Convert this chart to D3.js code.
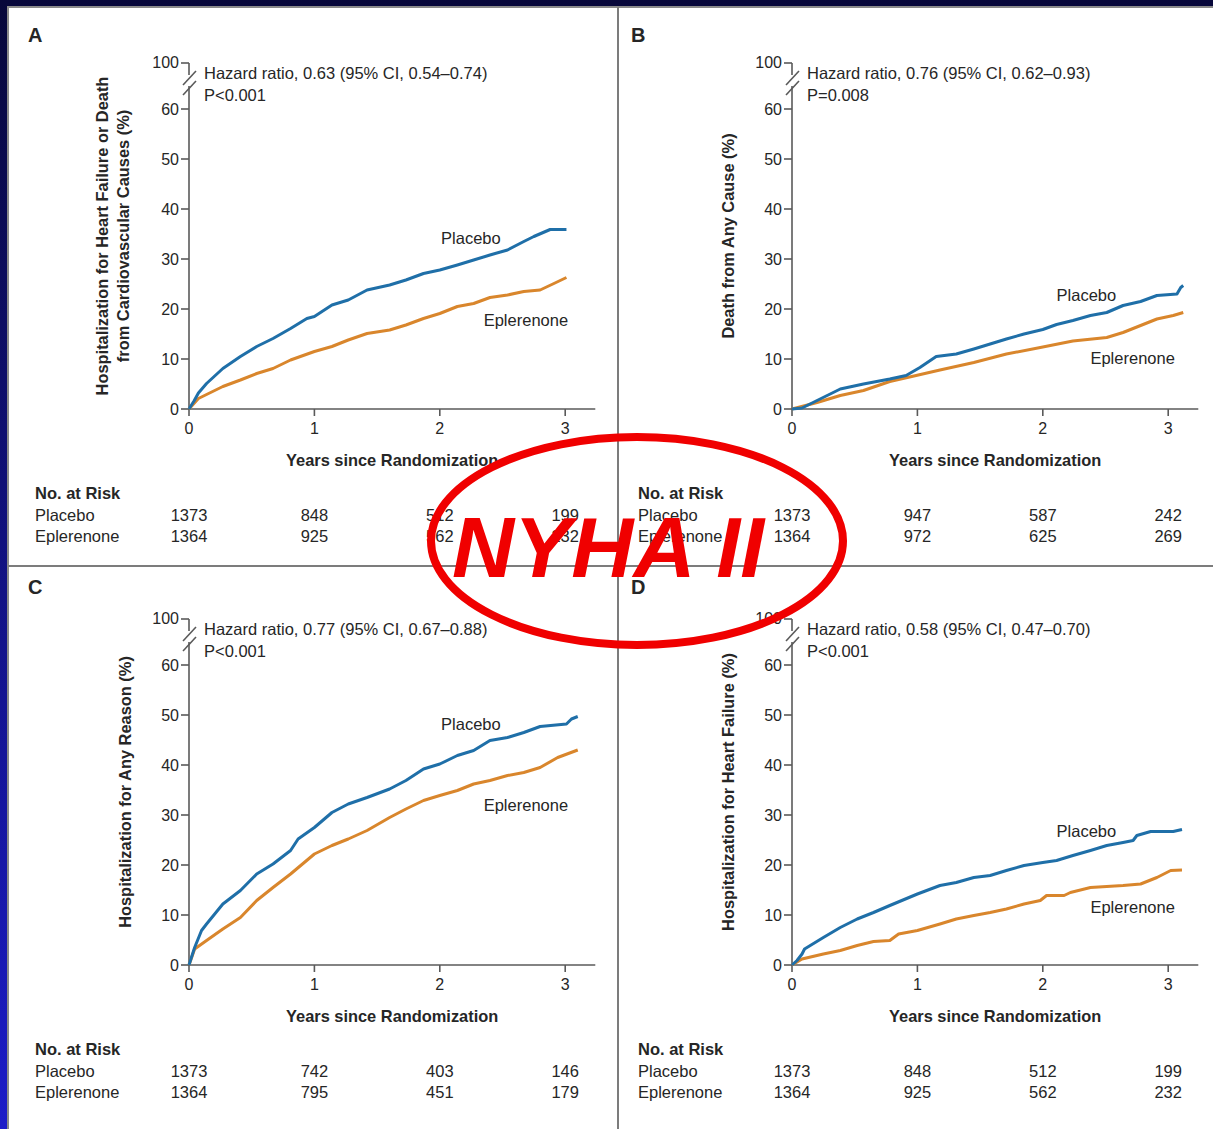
<!DOCTYPE html>
<html>
<head>
<meta charset="utf-8">
<script src="https://cdn.jsdelivr.net/npm/d3@7"></script>
<style>
  html, body { margin: 0; padding: 0; background: #0a0a3a; }
  svg { display: block; }
  text { font-family: "Liberation Sans", Arial, sans-serif; fill: #262626; }
</style>
</head>
<body>
<svg id="chart" width="1213" height="1129"></svg>
<script>
// ---- data ----
const yearTicks = [0, 1, 2, 3];
const pctTicks = [0, 10, 20, 30, 40, 50, 60];
const breakTickLabel = "100";
const panelLetters = ["A", "B", "C", "D"];
const yTitles = [
  ["Hospitalization for Heart Failure or Death", "from Cardiovascular Causes (%)"],
  ["Death from Any Cause (%)"],
  ["Hospitalization for Any Reason (%)"],
  ["Hospitalization for Heart Failure (%)"]
];
const hazardLines = [
  "Hazard ratio, 0.63 (95% CI, 0.54\u20130.74)",
  "Hazard ratio, 0.76 (95% CI, 0.62\u20130.93)",
  "Hazard ratio, 0.77 (95% CI, 0.67\u20130.88)",
  "Hazard ratio, 0.58 (95% CI, 0.47\u20130.70)"
];
const pValueLines = ["P<0.001", "P=0.008", "P<0.001", "P<0.001"];
const seriesNames = ["Placebo", "Eplerenone"];
const xTitle = "Years since Randomization";
const riskTitle = "No. at Risk";
const riskPlacebo = [
  [1373, 848, 512, 199],
  [1373, 947, 587, 242],
  [1373, 742, 403, 146],
  [1373, 848, 512, 199]
];
const riskEplerenone = [
  [1364, 925, 562, 232],
  [1364, 972, 625, 269],
  [1364, 795, 451, 179],
  [1364, 925, 562, 232]
];

// cumulative event rates, [years, percent]
const placeboA = [[0,0],[0.04,1.6],[0.075,3.2],[0.14,5.1],[0.27,8.1],[0.41,10.5],[0.54,12.5],[0.67,14.1],[0.81,16.1],[0.94,18.1],[1.0,18.5],[1.14,20.8],[1.27,21.8],[1.42,23.8],[1.6,24.8],[1.73,25.8],[1.87,27.1],[2.0,27.8],[2.14,28.8],[2.27,29.8],[2.4,30.8],[2.54,31.8],[2.67,33.5],[2.75,34.5],[2.88,35.9],[3.01,35.9]];
const eplerenoneA = [[0,0],[0.075,2.1],[0.27,4.5],[0.41,5.8],[0.54,7.1],[0.67,8.1],[0.81,9.8],[1.0,11.5],[1.14,12.5],[1.27,13.8],[1.42,15.1],[1.6,15.8],[1.73,16.8],[1.87,18.1],[2.0,19.1],[2.14,20.5],[2.27,21.1],[2.4,22.3],[2.54,22.8],[2.67,23.5],[2.8,23.8],[2.91,25.1],[3.01,26.3]];
const placeboB = [[0,0],[0.08,0.2],[0.2,1.7],[0.385,4.0],[0.57,5.0],[0.78,6.0],[0.91,6.7],[1.02,8.3],[1.15,10.5],[1.31,11.0],[1.45,12.0],[1.58,13.0],[1.71,14.0],[1.85,15.0],[2.0,15.9],[2.11,16.9],[2.24,17.7],[2.38,18.7],[2.51,19.3],[2.64,20.7],[2.78,21.5],[2.91,22.7],[3.07,23.0],[3.1,24.3],[3.12,24.7]];
const eplerenoneB = [[0,0],[0.2,1.3],[0.385,2.7],[0.57,3.7],[0.78,5.5],[0.99,6.7],[1.18,7.8],[1.45,9.3],[1.71,11.0],[1.98,12.3],[2.24,13.6],[2.51,14.3],[2.64,15.3],[2.78,16.7],[2.91,18.0],[3.04,18.7],[3.12,19.3]];
const placeboC = [[0,0],[0.045,3.5],[0.1,6.9],[0.14,8.2],[0.27,12.2],[0.41,14.9],[0.54,18.2],[0.67,20.2],[0.81,22.9],[0.87,25.2],[1.0,27.5],[1.14,30.5],[1.27,32.2],[1.42,33.5],[1.6,35.2],[1.73,36.9],[1.87,39.2],[2.0,40.2],[2.14,41.9],[2.27,42.9],[2.4,44.9],[2.54,45.5],[2.67,46.5],[2.8,47.7],[3.01,48.2],[3.05,49.2],[3.1,49.7]];
const eplerenoneC = [[0,0],[0.045,3.2],[0.14,4.9],[0.27,7.2],[0.41,9.5],[0.54,12.9],[0.67,15.5],[0.81,18.2],[1.0,22.2],[1.14,23.9],[1.27,25.2],[1.42,26.9],[1.6,29.5],[1.73,31.2],[1.87,32.9],[2.0,33.9],[2.14,34.9],[2.27,36.2],[2.4,36.9],[2.54,37.9],[2.67,38.5],[2.8,39.5],[2.94,41.5],[3.1,43.0]];
const placeboD = [[0,0],[0.04,0.9],[0.08,2.2],[0.1,3.2],[0.25,5.5],[0.385,7.5],[0.52,9.2],[0.65,10.5],[0.78,11.9],[1.0,14.2],[1.18,15.9],[1.31,16.5],[1.45,17.5],[1.58,17.9],[1.71,18.9],[1.85,19.9],[2.0,20.5],[2.11,20.9],[2.24,21.9],[2.38,22.9],[2.51,23.9],[2.64,24.5],[2.72,24.9],[2.75,25.9],[2.86,26.7],[3.04,26.7],[3.11,27.1]];
const eplerenoneD = [[0,0],[0.08,1.2],[0.25,2.2],[0.385,2.9],[0.52,3.9],[0.65,4.7],[0.78,4.9],[0.85,6.2],[1.0,6.9],[1.18,8.2],[1.31,9.2],[1.45,9.9],[1.58,10.5],[1.71,11.2],[1.85,12.2],[1.98,12.9],[2.03,13.9],[2.17,13.9],[2.22,14.5],[2.38,15.5],[2.64,15.9],[2.78,16.2],[2.91,17.5],[3.02,18.9],[3.11,19.0]];

const placeboSeries = [placeboA, placeboB, placeboC, placeboD];
const eplerenoneSeries = [eplerenoneA, eplerenoneB, eplerenoneC, eplerenoneD];

const overlayLabel = "NYHA II";

// ---- layout ----
const W = 1213, H = 1129;
const colors = { placebo: "#1f6fa8", eplerenone: "#d9862c", axis: "#5a5a5a", divider: "#7c7c7c" };
const yearPx = 125.4, pctPx = 5;
const panels = [
  { ox: 189, oy: 409, labels: [[2.01, 33], [2.35, 16.6]], yTitleX: [-81, -60] },
  { ox: 792, oy: 409, labels: [[2.11, 21.6], [2.38, 9]], yTitleX: [-58] },
  { ox: 189, oy: 965, labels: [[2.01, 47], [2.35, 30.8]], yTitleX: [-58] },
  { ox: 792, oy: 965, labels: [[2.11, 25.6], [2.38, 10.4]], yTitleX: [-58] }
];

const svg = d3.select("#chart");

// backdrop: dark blue gradient, then white sheet
const defs = svg.append("defs");
const grad = defs.append("linearGradient").attr("id", "bg").attr("x1", 0).attr("y1", 0).attr("x2", 0).attr("y2", 1);
grad.append("stop").attr("offset", "0%").attr("stop-color", "#07073a");
grad.append("stop").attr("offset", "100%").attr("stop-color", "#1c1cc8");
svg.append("rect").attr("width", W).attr("height", H).attr("fill", "url(#bg)");
svg.append("rect").attr("x", 8).attr("y", 7).attr("width", W).attr("height", H)
  .attr("fill", "#ffffff").attr("stroke", "#8a8a8a").attr("stroke-width", 2);

// quadrant dividers
svg.append("line").attr("x1", 618).attr("x2", 618).attr("y1", 7).attr("y2", H)
  .attr("stroke", colors.divider).attr("stroke-width", 2);
svg.append("line").attr("x1", 8).attr("x2", W).attr("y1", 566).attr("y2", 566)
  .attr("stroke", colors.divider).attr("stroke-width", 2);

panels.forEach((p, i) => {
  const g = svg.append("g");
  const x = d3.scaleLinear().domain([0, 3]).range([p.ox, p.ox + 3 * yearPx]);
  const y = d3.scaleLinear().domain([0, 60]).range([p.oy, p.oy - 60 * pctPx]);
  const topVal = 69.2;      // position of the "100" tick above the break
  const xEnd = x(3.24);

  // panel letter
  g.append("text").attr("x", p.ox - 161).attr("y", p.oy - 367 + (i >= 2 ? -4 : 0))
    .attr("font-size", 20).attr("font-weight", "bold").text(panelLetters[i]);

  // y axis (broken)
  const axisStroke = { stroke: colors.axis, "stroke-width": 1.6, fill: "none" };
  const addLine = (x1, y1, x2, y2) => {
    const l = g.append("line").attr("x1", x1).attr("y1", y1).attr("x2", x2).attr("y2", y2);
    Object.entries(axisStroke).forEach(([k, v]) => l.attr(k, v));
  };
  addLine(p.ox, y(0), p.ox, y(64.6));
  addLine(p.ox, y(topVal), p.ox, y(66.8));
  addLine(p.ox - 8, y(topVal), p.ox, y(topVal));
  // break marks
  addLine(p.ox - 6, y(62.8), p.ox + 7, y(65.6));
  addLine(p.ox - 6, y(64.8), p.ox + 7, y(67.6));

  pctTicks.forEach(t => {
    addLine(p.ox - 8, y(t), p.ox, y(t));
    g.append("text").attr("x", p.ox - 10).attr("y", y(t)).attr("dy", "0.35em")
      .attr("text-anchor", "end").attr("font-size", 16).text(t);
  });
  g.append("text").attr("x", p.ox - 10).attr("y", y(topVal)).attr("dy", "0.3em")
    .attr("text-anchor", "end").attr("font-size", 16).text(breakTickLabel);

  // x axis
  addLine(p.ox, y(0), xEnd, y(0));
  yearTicks.forEach(t => {
    addLine(x(t), y(0), x(t), y(0) + 7);
    g.append("text").attr("x", x(t)).attr("y", p.oy + 25)
      .attr("text-anchor", "middle").attr("font-size", 16).text(t);
  });
  g.append("text").attr("x", (p.ox + xEnd) / 2).attr("y", p.oy + 57)
    .attr("text-anchor", "middle").attr("font-size", 16.4).attr("font-weight", "bold").text(xTitle);

  // y title
  const yMid = (y(0) + y(topVal)) / 2;
  yTitles[i].forEach((line, k) => {
    const tx = p.ox + p.yTitleX[k];
    g.append("text").attr("transform", `translate(${tx},${yMid}) rotate(-90)`)
      .attr("text-anchor", "middle").attr("font-size", 16.4).attr("font-weight", "bold").text(line);
  });

  // hazard ratio annotation
  g.append("text").attr("x", p.ox + 15).attr("y", p.oy - 330).attr("font-size", 16.5).text(hazardLines[i]);
  g.append("text").attr("x", p.ox + 15).attr("y", p.oy - 308.5).attr("font-size", 16.5).text(pValueLines[i]);

  // curves
  const line = d3.line().x(d => x(d[0])).y(d => y(d[1])).curve(d3.curveLinear);
  g.append("path").datum(eplerenoneSeries[i]).attr("d", line)
    .attr("fill", "none").attr("stroke", colors.eplerenone).attr("stroke-width", 3).attr("stroke-linejoin", "round");
  g.append("path").datum(placeboSeries[i]).attr("d", line)
    .attr("fill", "none").attr("stroke", colors.placebo).attr("stroke-width", 3).attr("stroke-linejoin", "round");

  // series labels
  seriesNames.forEach((name, k) => {
    g.append("text").attr("x", x(p.labels[k][0])).attr("y", y(p.labels[k][1]))
      .attr("font-size", 16.5).text(name);
  });

  // number at risk table
  const rx = p.ox - 154;
  g.append("text").attr("x", rx).attr("y", p.oy + 90).attr("font-size", 16.5).attr("font-weight", "bold").text(riskTitle);
  [[seriesNames[0], riskPlacebo[i], 112], [seriesNames[1], riskEplerenone[i], 133]].forEach(([name, vals, dy]) => {
    g.append("text").attr("x", rx).attr("y", p.oy + dy).attr("font-size", 16.5).text(name);
    vals.forEach((v, j) => {
      g.append("text").attr("x", x(yearTicks[j])).attr("y", p.oy + dy)
        .attr("text-anchor", "middle").attr("font-size", 16.5).text(v);
    });
  });
});

// red highlight ellipse with subgroup label
const overlay = svg.append("g");
overlay.append("ellipse").attr("cx", 637).attr("cy", 541).attr("rx", 206).attr("ry", 104)
  .attr("fill", "none").attr("stroke", "#f00000").attr("stroke-width", 8);
overlay.append("text").attr("x", 608).attr("y", 577).attr("text-anchor", "middle")
  .attr("font-size", 86).attr("font-weight", "bold").attr("font-style", "italic")
  .style("fill", "#f00000").text(overlayLabel);
</script>
</body>
</html>
